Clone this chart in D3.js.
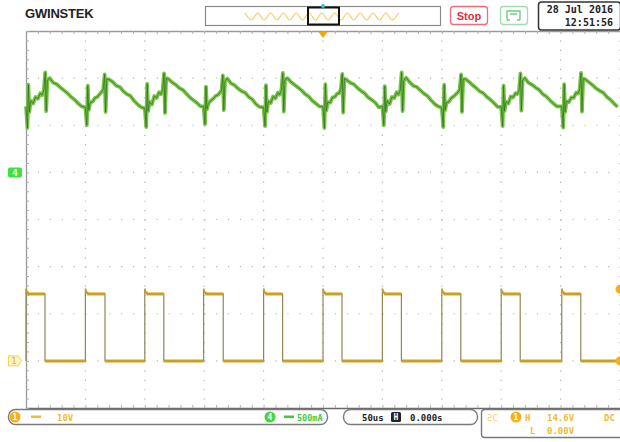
<!DOCTYPE html>
<html>
<head>
<meta charset="utf-8">
<script src="https://cdn.jsdelivr.net/npm/d3@7"></script>
<style>
    body { margin: 0; background: #fff; }
    svg { display: block; font-family: "DejaVu Sans Mono", monospace; }
</style>
</head>
<body>
<div id="scope"></div>
<script>
var width = 620, height = 442;
var plot = { left: 26, right: 620, top: 31, bottom: 408 };

// 50us/div, 10 divisions, trigger at centre
var timeDomain = [-250, 250];
var divDomain = [-4, 4];

// CH1 (10V/div) : gate drive square wave
var ch1Offset = -3;            // ground marker in divisions
var riseTimes = [-250, -200, -150, -100.5, -50, 0, 50, 100, 150, 201];
var fallTimes = [-234, -183.5, -134, -84, -34, 16, 66, 116, 166, 217];
var ch1Levels = { low: 0, high: 14.2, overshoot: 15.3 };

// CH4 (500mA/div) : inductor current, one row per switching cycle
var ch4Offset = 1;
var greenOffsets = [0, 1.2, 2.0, 2.8, 4, 6, 8, 10, 12, 13.5, 15, 16.2, 17, 18, 20, 23, 26, 29, 32, 35, 38, 41, 44, 47];
var greenCycles = [
    [700, 470, 930, 640, 760, 730, 800, 780, 840, 820, 870, 1060, 650, 980, 1000, 950, 935, 900, 870, 840, 800, 770, 730, 700],
    [690, 500, 920, 660, 740, 750, 790, 800, 830, 850, 880, 1040, 640, 990, 985, 960, 920, 905, 860, 830, 810, 760, 720, 690],
    [680, 480, 940, 650, 750, 720, 810, 790, 850, 830, 870, 1050, 630, 1000, 990, 955, 930, 895, 875, 835, 795, 765, 735, 700],
    [700, 510, 910, 670, 730, 760, 780, 810, 820, 845, 865, 1030, 660, 970, 995, 945, 925, 890, 860, 845, 800, 775, 725, 695],
    [690, 490, 925, 640, 755, 735, 805, 785, 845, 825, 875, 1055, 645, 985, 1000, 960, 930, 900, 870, 830, 805, 760, 730, 700],
    [695, 470, 935, 655, 745, 740, 795, 800, 835, 840, 880, 1045, 635, 995, 980, 950, 935, 895, 865, 840, 795, 770, 740, 690],
    [700, 500, 915, 645, 760, 725, 800, 790, 850, 825, 870, 1060, 650, 975, 1005, 955, 920, 905, 870, 835, 810, 765, 725, 700],
    [685, 480, 930, 660, 740, 750, 790, 805, 830, 850, 875, 1040, 640, 990, 990, 960, 925, 895, 860, 840, 800, 770, 735, 695],
    [695, 490, 920, 650, 750, 730, 805, 795, 840, 830, 865, 1050, 655, 980, 1000, 950, 930, 900, 875, 830, 805, 765, 730, 700],
    [700, 475, 935, 640, 755, 745, 795, 790, 845, 835, 880, 1055, 645, 995, 985, 955, 925, 890, 865, 845, 800, 770, 730, 695]
];

// status texts
var ch1Label = "10V", ch4Label = "500mA";
var timebase = "50us", hPos = "0.000s";
var trigHigh = "14.6V", trigLow = "0.00V", trigCoupling = "DC";
var dateText = "28 Jul 2016", timeText = "12:51:56";

var colors = {
    ch1: "#c9a122",
    ch1Edge: "#8f8557",
    ch1Text: "#eebb33",
    ch1Marker: "#f2b21c",
    ch4: "#78c447",
    ch4Dark: "#2c6a1c",
    ch4Text: "#3bcf3b",
    grid: "#b4b4b4",
    frame: "#9a9a9a"
};

var svg = d3.select("#scope").append("svg")
    .attr("width", width)
    .attr("height", height);

var x = d3.scaleLinear().domain(timeDomain).range([plot.left, plot.right]);
var y = d3.scaleLinear().domain(divDomain).range([plot.bottom, plot.top]);

function yV(v) { return y(ch1Offset + v / 10); }
function yI(ma) { return y(ch4Offset + ma / 500); }

//////////////////////// Grid ////////////////////////
var grid = svg.append("g").attr("class", "grid");
var divW = (plot.right - plot.left) / 10, divH = (plot.bottom - plot.top) / 8;

grid.selectAll(".vgrid")
    .data(d3.range(-200, 251, 50))
    .enter().append("line")
    .attr("x1", function (d) { return x(d); })
    .attr("x2", function (d) { return x(d); })
    .attr("y1", plot.top)
    .attr("y2", plot.bottom)
    .attr("stroke", colors.grid)
    .attr("stroke-width", 1.2)
    .attr("stroke-dasharray", "1.2," + (divH / 5 - 1.2));

grid.selectAll(".hgrid")
    .data(d3.range(-3, 4, 1))
    .enter().append("line")
    .attr("x1", plot.left)
    .attr("x2", plot.right)
    .attr("y1", function (d) { return y(d); })
    .attr("y2", function (d) { return y(d); })
    .attr("stroke", colors.grid)
    .attr("stroke-width", 1.2)
    .attr("stroke-dasharray", "1.2," + (divW / 5 - 1.2));

// frame with minor ticks
var topAxis = d3.axisBottom(x).tickValues(d3.range(-250, 251, 10)).tickSize(3).tickSizeOuter(0).tickFormat("");
var botAxis = d3.axisTop(x).tickValues(d3.range(-250, 251, 10)).tickSize(3).tickSizeOuter(0).tickFormat("");
var leftAxis = d3.axisRight(y).tickValues(d3.range(-4, 4.01, 0.2)).tickSize(3).tickSizeOuter(0).tickFormat("");

svg.append("g").attr("transform", "translate(0," + plot.top + ")").call(topAxis);
svg.append("g").attr("class", "bot").attr("transform", "translate(0," + plot.bottom + ")").call(botAxis);
svg.append("g").attr("transform", "translate(" + plot.left + ",0)").call(leftAxis);
svg.selectAll(".domain").attr("stroke", colors.frame).attr("stroke-width", 1.3);
svg.selectAll(".tick line").attr("stroke", "#b0b0b0");
svg.select(".bot .domain").attr("stroke", "#6a6a6a").attr("stroke-width", 1.6);

//////////////////////// CH1 trace ////////////////////////
var ch1Points = [];
riseTimes.forEach(function (r, i) {
    ch1Points.push([r, ch1Levels.low]);
    ch1Points.push([r, ch1Levels.overshoot]);
    ch1Points.push([r + 0.8, ch1Levels.high + 0.4]);
    ch1Points.push([r + 1.6, ch1Levels.high]);
    ch1Points.push([fallTimes[i], ch1Levels.high]);
    ch1Points.push([fallTimes[i], ch1Levels.low]);
});
ch1Points.push([timeDomain[1], ch1Levels.low]);

var lineV = d3.line()
    .x(function (d) { return x(d[0]); })
    .y(function (d) { return yV(d[1]); });

var traces = svg.append("g").attr("class", "traces");

traces.append("path")
    .attr("d", lineV(ch1Points))
    .attr("fill", "none")
    .attr("stroke", colors.ch1Edge)
    .attr("stroke-width", 1.2);

// plateaus drawn thicker, like the phosphor trace
var plateaus = [];
riseTimes.forEach(function (r, i) {
    plateaus.push([[r + 1.6, ch1Levels.high], [fallTimes[i], ch1Levels.high]]);
    var next = i + 1 < riseTimes.length ? riseTimes[i + 1] : timeDomain[1];
    plateaus.push([[fallTimes[i], ch1Levels.low], [next, ch1Levels.low]]);
});
traces.selectAll(".plateau")
    .data(plateaus)
    .enter().append("path")
    .attr("class", "plateau")
    .attr("d", function (d) { return lineV(d); })
    .attr("stroke", colors.ch1)
    .attr("stroke-width", 3);

traces.selectAll(".hook")
    .data(riseTimes)
    .enter().append("path")
    .attr("d", function (r) { return lineV([[r, ch1Levels.overshoot], [r + 0.8, ch1Levels.high + 0.4], [r + 2.5, ch1Levels.high + 0.3]]); })
    .attr("fill", "none")
    .attr("stroke", colors.ch1)
    .attr("stroke-width", 1.8);

//////////////////////// CH4 trace ////////////////////////
var ch4Points = [];
greenCycles.forEach(function (cyc, i) {
    cyc.forEach(function (v, j) {
        var t = riseTimes[i] + greenOffsets[j];
        if (t <= timeDomain[1]) ch4Points.push([t, v]);
    });
});

var lineI = d3.line()
    .x(function (d) { return x(d[0]); })
    .y(function (d) { return yI(d[1]); });

traces.append("path")
    .attr("d", lineI(ch4Points))
    .attr("fill", "none")
    .attr("stroke", colors.ch4)
    .attr("stroke-width", 3.8)
    .attr("stroke-linejoin", "round");

traces.append("path")
    .attr("d", lineI(ch4Points))
    .attr("fill", "none")
    .attr("stroke", colors.ch4Dark)
    .attr("stroke-width", 1)
    .attr("opacity", 0.7);

//////////////////////// Markers ////////////////////////
// CH4 ground marker
var m4 = svg.append("g").attr("transform", "translate(8," + (yI(0) - 5) + ")");
m4.append("rect").attr("width", 14).attr("height", 10).attr("rx", 2).attr("fill", "#3fe03f");
m4.append("text").attr("x", 7).attr("y", 8.5).attr("text-anchor", "middle")
    .attr("font-size", 9).attr("font-weight", "bold").attr("fill", "#fff").text("4");

// CH1 ground marker
var m1 = svg.append("g").attr("transform", "translate(8," + (yV(0) - 5.5) + ")");
m1.append("path").attr("d", "M0.5,0.5H10L13.5,5.5L10,10.5H0.5Z")
    .attr("fill", "#fff6c4").attr("stroke", "#f0cf5a");
m1.append("text").attr("x", 6).attr("y", 9).attr("text-anchor", "middle")
    .attr("font-size", 9).attr("fill", "#e0b020").text("1");

// trigger level markers on the right edge
svg.selectAll(".trig")
    .data([ch1Levels.high + 1, ch1Levels.low])
    .enter().append("circle")
    .attr("cx", plot.right)
    .attr("cy", function (d) { return yV(d); })
    .attr("r", 4.5)
    .attr("fill", colors.ch1Marker);

// trigger position arrow
svg.append("path")
    .attr("d", "M" + (x(0) - 4.5) + "," + (plot.top + 1) + "h9l-4.5,6z")
    .attr("fill", "#f5a800");

//////////////////////// Header ////////////////////////
svg.append("text")
    .attr("x", 25).attr("y", 18)
    .attr("font-family", "Liberation Sans, Arial, sans-serif")
    .attr("font-size", 13).attr("font-weight", "bold")
    .attr("letter-spacing", -0.2)
    .attr("fill", "#222").text("GWINSTEK");

var nav = svg.append("g");
nav.append("rect").attr("x", 205.5).attr("y", 6.5).attr("width", 235).attr("height", 19)
    .attr("fill", "#fff").attr("stroke", "#8a8a8a").attr("stroke-width", 1.2);
var navWave = d3.range(0, 25).map(function (k) { return [245 + k * 6.4, k % 2 ? 20 : 13]; });
nav.append("path")
    .attr("d", d3.line().curve(d3.curveMonotoneX)(navWave))
    .attr("fill", "none").attr("stroke", "#f2cc5c").attr("stroke-width", 1.2);
nav.append("rect").attr("x", 308).attr("y", 7.5).attr("width", 31).attr("height", 17)
    .attr("fill", "none").attr("stroke", "#111").attr("stroke-width", 2);
nav.append("circle").attr("cx", 323).attr("cy", 6).attr("r", 2).attr("fill", "#33c6d6");

var stopBox = svg.append("g");
stopBox.append("rect").attr("x", 450.5).attr("y", 6.5).attr("width", 37).attr("height", 18).attr("rx", 3)
    .attr("fill", "#fff").attr("stroke", "#e8707c").attr("stroke-width", 1.3);
stopBox.append("text").attr("x", 469).attr("y", 19.5).attr("text-anchor", "middle")
    .attr("font-family", "Liberation Sans, Arial, sans-serif")
    .attr("font-size", 11).attr("font-weight", "bold").attr("fill", "#e0303f").text("Stop");

var icon = svg.append("g");
icon.append("rect").attr("x", 500.5).attr("y", 6.5).attr("width", 27).attr("height", 18).attr("rx", 3)
    .attr("fill", "#fff").attr("stroke", "#9fdcae").attr("stroke-width", 1.3);
icon.append("path").attr("d", "M507,20V11h13v9M507,20h3M517,20h3M510,14h7")
    .attr("fill", "none").attr("stroke", "#6ccf86").attr("stroke-width", 1.4);

var clock = svg.append("g");
clock.append("rect").attr("x", 538.5).attr("y", 2).attr("width", 82).attr("height", 28).attr("rx", 3)
    .attr("fill", "#fff").attr("stroke", "#333").attr("stroke-width", 1.5);
clock.append("text").attr("x", 613).attr("y", 13).attr("text-anchor", "end")
    .attr("font-size", 10).attr("font-weight", "bold").attr("fill", "#222").text(dateText);
clock.append("text").attr("x", 613).attr("y", 26).attr("text-anchor", "end")
    .attr("font-size", 10).attr("font-weight", "bold").attr("fill", "#222").text(timeText);

//////////////////////// Status bar ////////////////////////
var statusBar = svg.append("g").attr("font-size", 9).attr("font-weight", "bold");

statusBar.append("rect").attr("x", 8.5).attr("y", 409.5).attr("width", 319).attr("height", 15).attr("rx", 7)
    .attr("fill", "#fff").attr("stroke", "#7a7a7a").attr("stroke-width", 1.4);
statusBar.append("circle").attr("cx", 15).attr("cy", 417).attr("r", 5.5).attr("fill", colors.ch1Marker);
statusBar.append("text").attr("x", 15).attr("y", 420).attr("text-anchor", "middle").attr("font-size", 8).attr("fill", "#fff").text("1");
statusBar.append("rect").attr("x", 31).attr("y", 415.5).attr("width", 10).attr("height", 2.5).attr("fill", colors.ch1Text);
statusBar.append("text").attr("x", 57).attr("y", 420.5).attr("fill", colors.ch1Text).text(ch1Label);

statusBar.append("circle").attr("cx", 270).attr("cy", 417).attr("r", 5.5).attr("fill", "#44d444");
statusBar.append("text").attr("x", 270).attr("y", 420).attr("text-anchor", "middle").attr("font-size", 8).attr("fill", "#fff").text("4");
statusBar.append("rect").attr("x", 284).attr("y", 415.5).attr("width", 10).attr("height", 2.5).attr("fill", colors.ch4Text);
statusBar.append("text").attr("x", 297).attr("y", 420.5).attr("font-size", 8.5).attr("fill", colors.ch4Text).text(ch4Label);

statusBar.append("rect").attr("x", 343.5).attr("y", 409.5).attr("width", 134).attr("height", 15).attr("rx", 7)
    .attr("fill", "#fff").attr("stroke", "#7a7a7a").attr("stroke-width", 1.4);
statusBar.append("text").attr("x", 362).attr("y", 420.5).attr("fill", "#222").text(timebase);
statusBar.append("rect").attr("x", 391).attr("y", 412).attr("width", 10).attr("height", 10).attr("rx", 1.5).attr("fill", "#222");
statusBar.append("text").attr("x", 396).attr("y", 420).attr("text-anchor", "middle").attr("font-size", 8).attr("fill", "#fff").text("H");
statusBar.append("text").attr("x", 410).attr("y", 420.5).attr("fill", "#222").text(hPos);

statusBar.append("path").attr("d", "M485,409.5H620M485,437.5H620M485,409.5Q481.5,409.5 481.5,413V434Q481.5,437.5 485,437.5")
    .attr("fill", "#fff").attr("stroke", "#7a7a7a").attr("stroke-width", 1.4);
statusBar.append("text").attr("x", 487).attr("y", 420.5).attr("fill", "#ecd27a").attr("font-weight", "normal").text("ƧC");
statusBar.append("circle").attr("cx", 516).attr("cy", 417).attr("r", 5.5).attr("fill", colors.ch1Marker);
statusBar.append("text").attr("x", 516).attr("y", 420).attr("text-anchor", "middle").attr("font-size", 8).attr("fill", "#fff").text("1");
statusBar.append("text").attr("x", 525).attr("y", 420.5).attr("fill", colors.ch1Text).text("H");
statusBar.append("text").attr("x", 547).attr("y", 420.5).attr("fill", colors.ch1Text).text(trigHigh);
statusBar.append("text").attr("x", 604).attr("y", 420.5).attr("fill", colors.ch1Text).text(trigCoupling);
statusBar.append("text").attr("x", 530).attr("y", 433.5).attr("fill", colors.ch1Text).text("L");
statusBar.append("text").attr("x", 547).attr("y", 433.5).attr("fill", colors.ch1Text).text(trigLow);
</script>
</body>
</html>
